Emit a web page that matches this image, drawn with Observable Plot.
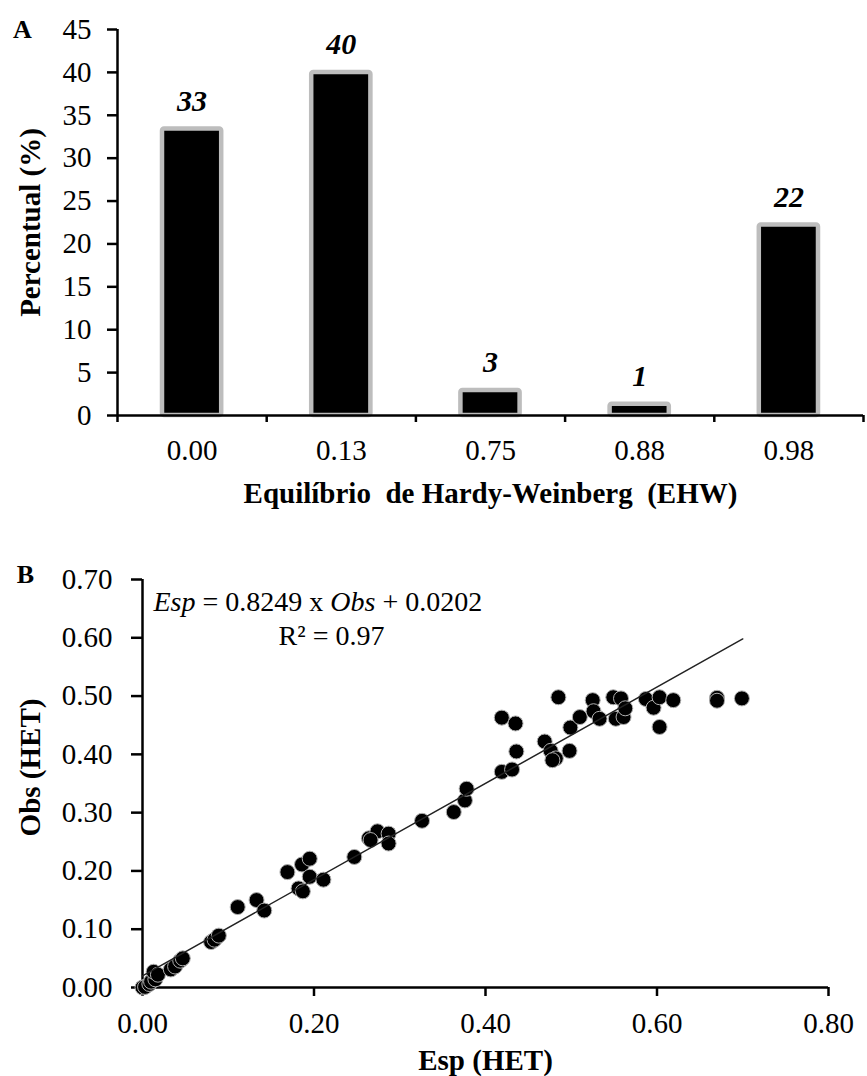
<!DOCTYPE html>
<html><head><meta charset="utf-8">
<script src="https://cdn.jsdelivr.net/npm/d3@7"></script>
<script src="https://cdn.jsdelivr.net/npm/@observablehq/plot@0.6"></script>
<style>
body{margin:0;background:#fff;}
#wrap{position:relative;width:867px;height:1076px;overflow:hidden;}
#wrap svg{position:absolute;left:0;}
svg text{white-space:pre;}
</style></head><body><div id="wrap"></div>
<script>
// ---------- Panel A data ----------
const categories = ["0.00", "0.13", "0.75", "0.88", "0.98"];
const percent = [33.4, 40.0, 2.9, 1.3, 22.2];
const barLabels = ["33", "40", "3", "1", "22"];
const yTicksA = [0, 5, 10, 15, 20, 25, 30, 35, 40, 45];
const titleXA = "Equilíbrio  de Hardy-Weinberg  (EHW)";
const titleYA = "Percentual (%)";

// ---------- Panel B data ----------
const esp = [0.000, 0.003, 0.008, 0.010, 0.015, 0.013, 0.018, 0.033, 0.038, 0.044,
  0.047, 0.080, 0.084, 0.089, 0.111, 0.133, 0.142, 0.169, 0.182, 0.186,
  0.187, 0.195, 0.195, 0.211, 0.247, 0.264, 0.274, 0.266, 0.287, 0.287,
  0.326, 0.363, 0.376, 0.378, 0.419, 0.431, 0.419, 0.435, 0.436, 0.469,
  0.476, 0.482, 0.478, 0.498, 0.499, 0.485, 0.510, 0.525, 0.526, 0.533,
  0.549, 0.558, 0.552, 0.561, 0.563, 0.587, 0.596, 0.603, 0.603, 0.619,
  0.670, 0.670, 0.699];
const obs = [0.000, 0.001, 0.006, 0.010, 0.014, 0.027, 0.022, 0.031, 0.036, 0.046,
  0.050, 0.078, 0.082, 0.089, 0.138, 0.150, 0.132, 0.198, 0.170, 0.211,
  0.165, 0.221, 0.190, 0.185, 0.224, 0.256, 0.268, 0.253, 0.264, 0.247,
  0.286, 0.301, 0.321, 0.341, 0.370, 0.374, 0.463, 0.453, 0.405, 0.422,
  0.406, 0.393, 0.390, 0.406, 0.446, 0.498, 0.464, 0.493, 0.474, 0.461,
  0.498, 0.496, 0.461, 0.464, 0.479, 0.495, 0.480, 0.498, 0.447, 0.493,
  0.497, 0.492, 0.496];
const fitEsp = [0.0, 0.70];
const fitObs = [0.020, 0.598];
const xTicksB = [0, 0.2, 0.4, 0.6, 0.8];
const yTicksB = [0, 0.1, 0.2, 0.3, 0.4, 0.5, 0.6, 0.7];
const eqParts = [["Esp", true], [" = 0.8249 x ", false], ["Obs", true], [" + 0.0202", false]];
const r2Text = "R² = 0.97";
const titleXB = "Esp (HET)";
const titleYB = "Obs (HET)";

const serif = "'Liberation Serif', 'Times New Roman', Times, serif";
const fmt2 = d3.format(".2f");
const FS = 29;

// ---------- Panel A ----------
const barData = categories.map((c, i) => ({i, c, v: percent[i], label: barLabels[i]}));
const A = Plot.plot({
  width: 867, height: 540,
  marginTop: 29, marginLeft: 117, marginRight: 4, marginBottom: 125,
  style: {fontFamily: serif, fontSize: FS + "px", background: "white", color: "black", overflow: "visible"},
  x: {domain: [0, categories.length], axis: null},
  y: {domain: [0, 45], axis: null},
  marks: [
    Plot.rectY(barData, {x1: d => d.i, x2: d => d.i + 1, y1: 0, y2: "v",
      insetLeft: 45, insetRight: 45, fill: "black", stroke: "#bdbdbd", strokeWidth: 4.5, rx: 2}),
    Plot.ruleX([0], {strokeWidth: 2.5}),
    Plot.ruleY([0], {strokeWidth: 2.5}),
    Plot.axisY({ticks: yTicksA, label: null, tickSize: 10, tickPadding: 16, fontSize: FS, strokeWidth: 2.5, tickFormat: d => String(d)}),
    Plot.axisX({ticks: d3.range(categories.length + 1), label: null, tickSize: 7, strokeWidth: 2.5, tickFormat: () => ""}),
    Plot.axisX({ticks: categories.map((c, i) => i + 0.5), label: null, tickSize: 0, tickPadding: 24, fontSize: FS,
      tickFormat: d => categories[Math.floor(d)]}),
    Plot.text(barData, {x: d => d.i + 0.5, y: "v", text: "label", dy: -28, fontSize: 30,
      fontWeight: "bold", fontStyle: "italic", lineAnchor: "middle"}),
    Plot.text([titleXA], {frameAnchor: "bottom", dy: 78, fontSize: 29, fontWeight: "bold", lineAnchor: "middle", textAnchor: "middle"}),
    Plot.text([titleYA], {frameAnchor: "left", dx: -87, rotate: -90, fontSize: 29, fontWeight: "bold", lineAnchor: "middle", textAnchor: "middle"}),
    Plot.text(["A"], {frameAnchor: "top-left", dx: -95, dy: 0, fontSize: 26, fontWeight: "bold", lineAnchor: "middle", textAnchor: "middle"})
  ]
});
A.style.top = "0px";

// ---------- Panel B ----------
const points = esp.map((e, i) => ({esp: e, obs: obs[i]}));
const fit = fitEsp.map((e, i) => ({esp: e, obs: fitObs[i]}));
const eqString = eqParts.map(p => p[0]).join("");
const B = Plot.plot({
  width: 867, height: 536,
  marginTop: 39, marginLeft: 142, marginRight: 39, marginBottom: 89,
  style: {fontFamily: serif, fontSize: FS + "px", background: "white", color: "black", overflow: "visible"},
  x: {domain: [0, 0.8], axis: null},
  y: {domain: [0, 0.7], axis: null},
  marks: [
    Plot.ruleX([0], {strokeWidth: 2.5}),
    Plot.ruleY([0], {strokeWidth: 2.5}),
    Plot.axisY({ticks: yTicksB, label: null, tickSize: 11, tickPadding: 19, fontSize: FS, strokeWidth: 2.5, tickFormat: fmt2}),
    Plot.axisX({ticks: xTicksB, label: null, tickSize: 9, tickPadding: 16, fontSize: FS, strokeWidth: 2.5, tickFormat: fmt2}),
    Plot.dot(points, {x: "esp", y: "obs", r: 7.5, fill: "black", stroke: "#b0b0b0", strokeWidth: 1}),
    Plot.line(fit, {x: "esp", y: "obs", stroke: "#222", strokeWidth: 1.5}),
    Plot.text([eqString], {frameAnchor: "top-left", textAnchor: "start", dx: 11, dy: 23, fontSize: 28, lineAnchor: "middle"}),
    Plot.text([r2Text], {frameAnchor: "top-left", textAnchor: "middle", dx: 189, dy: 57, fontSize: 28, lineAnchor: "middle"}),
    Plot.text([titleXB], {frameAnchor: "bottom", dy: 73, fontSize: 29, fontWeight: "bold", lineAnchor: "middle", textAnchor: "middle"}),
    Plot.text([titleYB], {frameAnchor: "left", dx: -112, dy: -16, rotate: -90, fontSize: 29, fontWeight: "bold", lineAnchor: "middle", textAnchor: "middle"}),
    Plot.text(["B"], {frameAnchor: "top-left", dx: -117, dy: -5, fontSize: 26, fontWeight: "bold", lineAnchor: "middle", textAnchor: "middle"})
  ]
});
B.style.top = "540px";

d3.select(B).selectAll("text").filter(function() { return this.textContent === eqString; }).each(function() {
  const t = d3.select(this);
  t.text(null);
  eqParts.forEach(([s, it]) => t.append("tspan").attr("font-style", it ? "italic" : null).text(s));
});

const wrap = document.getElementById("wrap");
wrap.appendChild(A);
wrap.appendChild(B);
</script>
</body></html>
